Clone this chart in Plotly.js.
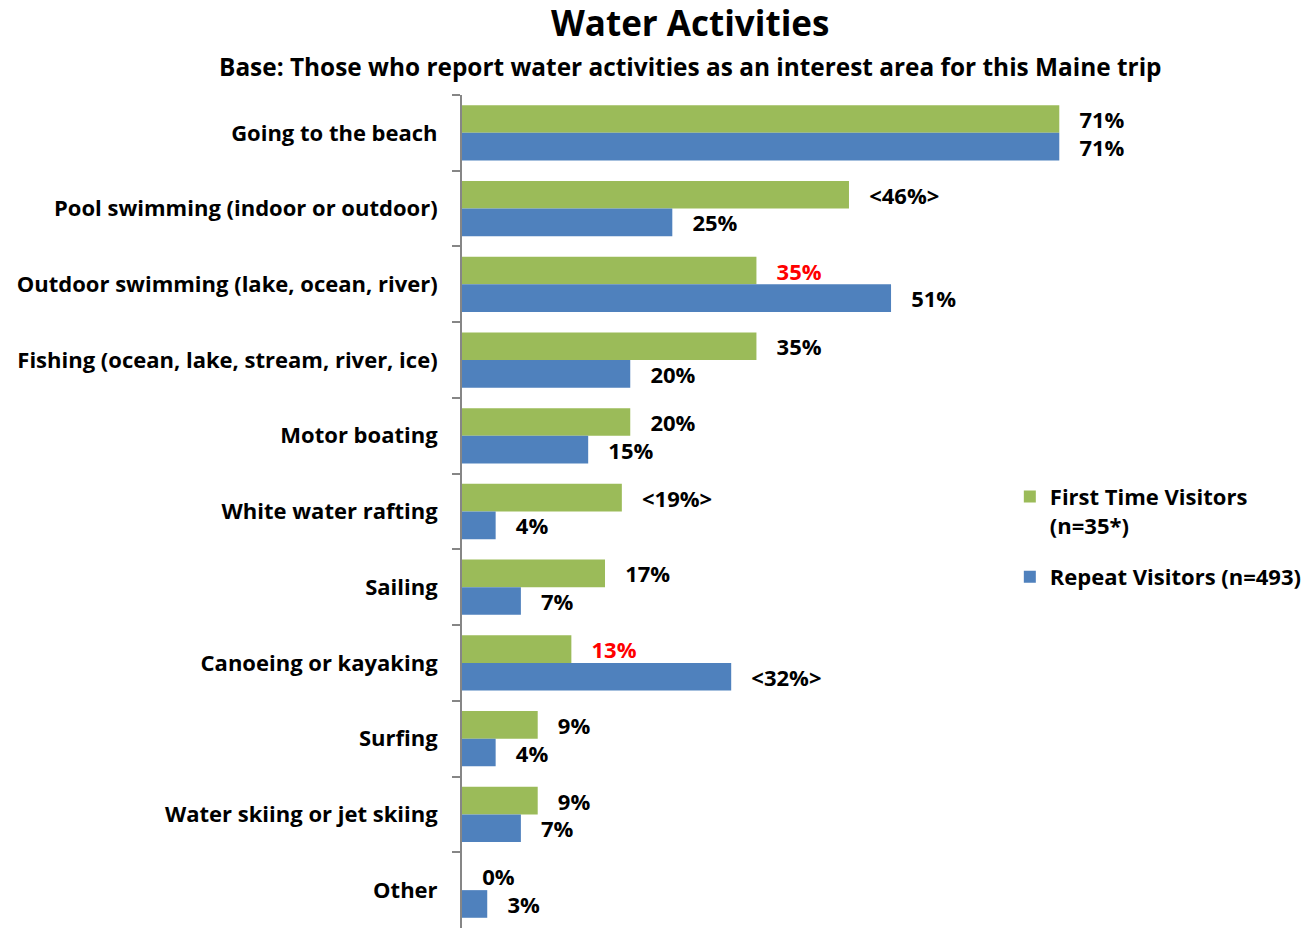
<!DOCTYPE html>
<html>
<head>
<meta charset="utf-8">
<script src="https://cdn.plot.ly/plotly-3.0.1.min.js"></script>
<style>
html,body{margin:0;padding:0;background:#fff;}
#chart{width:1310px;height:930px;}
</style>
</head>
<body>
<div id="chart"></div>
<script>
const categories = [
  "Going to the beach",
  "Pool swimming (indoor or outdoor)",
  "Outdoor swimming (lake, ocean, river)",
  "Fishing (ocean, lake, stream, river, ice)",
  "Motor boating",
  "White water rafting",
  "Sailing",
  "Canoeing or kayaking",
  "Surfing",
  "Water skiing or jet skiing",
  "Other"
];
const firstTime = [71, 46, 35, 35, 20, 19, 17, 13, 9, 9, 0];
const repeat = [71, 25, 51, 20, 15, 4, 7, 32, 4, 7, 3];
const firstLabels = ["71%", "<46%>", "35%", "35%", "20%", "<19%>", "17%", "13%", "9%", "9%", "0%"];
const repeatLabels = ["71%", "25%", "51%", "20%", "15%", "4%", "7%", "<32%>", "4%", "7%", "3%"];
const firstLabelColors = ["#000", "#000", "#FF0000", "#000", "#000", "#000", "#000", "#FF0000", "#000", "#000", "#000"];
const seriesNames = ["First Time Visitors<br>(n=35*)", "Repeat Visitors (n=493)"];

const FONT = "'Open Sans', Lato, sans-serif";
const pad = "\u00a0\u00a0\u00a0";

const traces = [
  {
    type: "bar", orientation: "h",
    name: seriesNames[0], legendgroup: "first",
    y: categories, x: firstTime,
    text: firstLabels.map(t => pad + t),
    textposition: "outside",
    textfont: {family: FONT, size: 22, color: firstLabelColors, weight: 700},
    constraintext: "none",
    cliponaxis: false,
    marker: {color: "#9BBB59"},
    hoverinfo: "x+y"
  },
  {
    type: "bar", orientation: "h",
    name: seriesNames[1], legendgroup: "repeat",
    y: categories, x: repeat,
    text: repeatLabels.map(t => pad + t),
    textposition: "outside",
    textfont: {family: FONT, size: 22, color: "#000", weight: 700},
    constraintext: "none",
    cliponaxis: false,
    marker: {color: "#4F81BD"},
    hoverinfo: "x+y"
  }
];

const layout = {
  width: 1310, height: 930,
  margin: {l: 462, r: 175, t: 95, b: 2},
  paper_bgcolor: "#fff", plot_bgcolor: "#fff",
  font: {family: FONT, color: "#000", weight: 700},
  barmode: "group",
  bargap: 0.27, bargroupgap: 0,
  showlegend: true,
  legend: {
    x: 0.814, y: 0.543, xanchor: "left", yanchor: "top",
    valign: "top",
    font: {family: FONT, size: 22, color: "#000", weight: 700},
    itemwidth: 30, tracegroupgap: 20,
    bgcolor: "rgba(0,0,0,0)"
  },
  xaxis: {
    range: [0, 80], visible: false, fixedrange: true
  },
  yaxis: {
    autorange: "reversed",
    type: "category",
    showline: true, linecolor: "#868686", linewidth: 2,
    ticks: "outside", tickson: "boundaries", ticklen: 8, tickcolor: "#868686", tickwidth: 2,
    ticklabelstandoff: 18,
    tickfont: {family: FONT, size: 22, color: "#000", weight: 700},
    showgrid: false, zeroline: false, fixedrange: true
  },
  annotations: [
    {
      text: "Water Activities", xref: "paper", yref: "paper",
      x: (690 - 462) / 673, y: 1 + (95 - 22) / 833, xanchor: "center", yanchor: "middle",
      showarrow: false, font: {family: FONT, size: 35, color: "#000", weight: 700}
    },
    {
      text: "Base: Those who report water activities as an interest area for this Maine trip", xref: "paper", yref: "paper",
      x: (690 - 462) / 673, y: 1 + (95 - 67) / 833, xanchor: "center", yanchor: "middle",
      showarrow: false, font: {family: FONT, size: 24.4, color: "#000", weight: 700}
    }
  ]
};

Plotly.newPlot("chart", traces, layout, {displayModeBar: false, responsive: false});
</script>
</body>
</html>
